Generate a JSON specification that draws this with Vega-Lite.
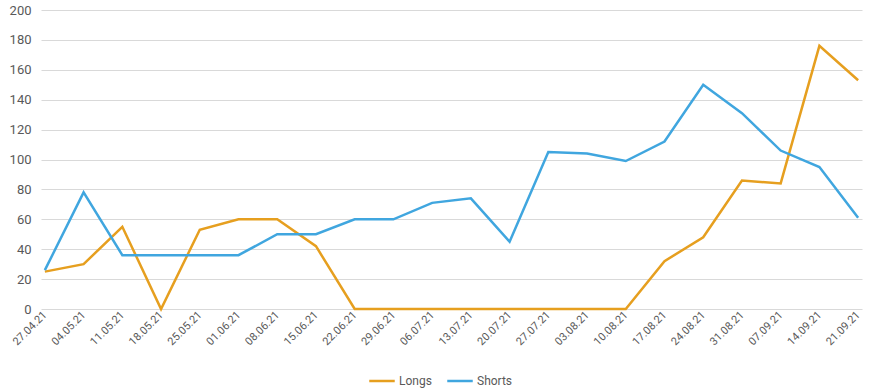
{
  "$schema": "https://vega.github.io/schema/vega-lite/v6.json",
  "width": 821,
  "height": 299,
  "autosize": {"type": "none"},
  "padding": {"left": 41, "top": 10, "right": 15, "bottom": 81},
  "background": "white",
  "config": {"view": {"stroke": null}, "font": "Roboto"},
  "datasets": {
    "d": [
      {"date": "27.04.21", "Longs": 25, "Shorts": 26},
      {"date": "04.05.21", "Longs": 30, "Shorts": 78},
      {"date": "11.05.21", "Longs": 55, "Shorts": 36},
      {"date": "18.05.21", "Longs": 0, "Shorts": 36},
      {"date": "25.05.21", "Longs": 53, "Shorts": 36},
      {"date": "01.06.21", "Longs": 60, "Shorts": 36},
      {"date": "08.06.21", "Longs": 60, "Shorts": 50},
      {"date": "15.06.21", "Longs": 42, "Shorts": 50},
      {"date": "22.06.21", "Longs": 0, "Shorts": 60},
      {"date": "29.06.21", "Longs": 0, "Shorts": 60},
      {"date": "06.07.21", "Longs": 0, "Shorts": 71},
      {"date": "13.07.21", "Longs": 0, "Shorts": 74},
      {"date": "20.07.21", "Longs": 0, "Shorts": 45},
      {"date": "27.07.21", "Longs": 0, "Shorts": 105},
      {"date": "03.08.21", "Longs": 0, "Shorts": 104},
      {"date": "10.08.21", "Longs": 0, "Shorts": 99},
      {"date": "17.08.21", "Longs": 32, "Shorts": 112},
      {"date": "24.08.21", "Longs": 48, "Shorts": 150},
      {"date": "31.08.21", "Longs": 86, "Shorts": 131},
      {"date": "07.09.21", "Longs": 84, "Shorts": 106},
      {"date": "14.09.21", "Longs": 176, "Shorts": 95},
      {"date": "21.09.21", "Longs": 153, "Shorts": 61}
    ]
  },
  "data": {"name": "d"},
  "transform": [{"fold": ["Longs", "Shorts"], "as": ["series", "value"]}],
  "mark": {"type": "line", "strokeWidth": 2.5, "strokeJoin": "miter"},
  "encoding": {
    "x": {
      "field": "date", "type": "ordinal", "sort": null,
      "scale": {"type": "point", "padding": 0.1},
      "axis": {
        "title": null, "labelAngle": -45, "labelAlign": "right", "labelBaseline": "middle",
        "labelFontSize": 11, "labelColor": "#595959", "labelPadding": 4,
        "domain": false, "ticks": false, "grid": false
      }
    },
    "y": {
      "field": "value", "type": "quantitative",
      "scale": {"domain": [0, 200], "nice": false},
      "axis": {
        "title": null, "values": [0, 20, 40, 60, 80, 100, 120, 140, 160, 180, 200],
        "labelFontSize": 13, "labelColor": "#595959", "labelPadding": 10,
        "domain": false, "ticks": false, "gridColor": "#d9d9d9", "gridWidth": 1
      }
    },
    "color": {
      "field": "series", "type": "nominal",
      "scale": {"domain": ["Longs", "Shorts"], "range": ["#E69F1F", "#40A6DF"]},
      "legend": {
        "title": null, "orient": "none", "legendX": 327, "legendY": 357, "direction": "horizontal",
        "symbolType": "stroke", "symbolStrokeWidth": 2.5, "symbolSize": 650,
        "labelFontSize": 12, "labelColor": "#595959", "columnPadding": 10, "labelOffset": 3
      }
    }
  }
}
